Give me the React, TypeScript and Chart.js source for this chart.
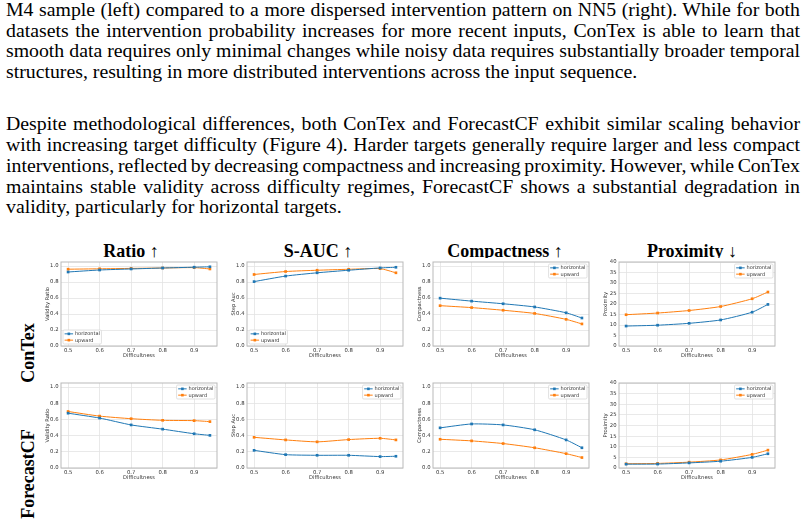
import React, { useEffect, useRef } from "react";
import { Chart, registerables } from "chart.js";

Chart.register(...registerables);

// ---- shared axis values ----
const difficulty = [0.5, 0.6, 0.7, 0.8, 0.9, 0.95];
const xTicks = [0.5, 0.6, 0.7, 0.8, 0.9];
const unitTicks = [0, 0.2, 0.4, 0.6, 0.8, 1.0];
const proximityTicks = [0, 5, 10, 15, 20, 25, 30, 35, 40];

// ---- ConTex ----
const contexRatioHorizontal = [0.925, 0.95, 0.963, 0.975, 0.985, 0.99];
const contexRatioUpward = [0.96, 0.965, 0.97, 0.975, 0.98, 0.963];
const contexAucHorizontal = [0.805, 0.874, 0.915, 0.947, 0.976, 0.984];
const contexAucUpward = [0.894, 0.931, 0.947, 0.959, 0.967, 0.915];
const contexCompactHorizontal = [0.598, 0.561, 0.528, 0.488, 0.415, 0.35];
const contexCompactUpward = [0.504, 0.48, 0.447, 0.407, 0.333, 0.276];
const contexProxHorizontal = [9.5, 9.9, 10.8, 12.4, 16.1, 19.8];
const contexProxUpward = [14.9, 15.7, 16.9, 18.8, 22.5, 25.7];

// ---- ForecastCF ----
const fcfRatioHorizontal = [0.677, 0.617, 0.532, 0.48, 0.423, 0.403];
const fcfRatioUpward = [0.698, 0.641, 0.609, 0.589, 0.585, 0.573];
const fcfAucHorizontal = [0.218, 0.165, 0.157, 0.157, 0.141, 0.145];
const fcfAucUpward = [0.379, 0.347, 0.323, 0.351, 0.367, 0.347];
const fcfCompactHorizontal = [0.496, 0.544, 0.532, 0.472, 0.347, 0.25];
const fcfCompactUpward = [0.355, 0.335, 0.302, 0.25, 0.177, 0.129];
const fcfProxHorizontal = [1.8, 1.85, 2.4, 3.2, 5.0, 6.7];
const fcfProxUpward = [2.0, 2.15, 2.75, 3.8, 6.4, 8.4];

const columnTitles = ["Ratio", "S-AUC", "Compactness", "Proximity"];
const columnArrows = ["↑", "↑", "↑", "↓"];
const rowLabels = ["ConTex", "ForecastCF"];
const seriesNames = ["horizontal", "upward"];

const paragraphOne = [
  "M4 sample (left) compared to a more dispersed intervention pattern on NN5 (right). While for both",
  "datasets the intervention probability increases for more recent inputs, ConTex is able to learn that",
  "smooth data requires only minimal changes while noisy data requires substantially broader temporal",
  "structures, resulting in more distributed interventions across the input sequence.",
];
const paragraphTwo = [
  "Despite methodological differences, both ConTex and ForecastCF exhibit similar scaling behavior",
  "with increasing target difficulty (Figure 4). Harder targets generally require larger and less compact",
  "interventions, reflected by decreasing compactness and increasing proximity. However, while ConTex",
  "maintains stable validity across difficulty regimes, ForecastCF shows a substantial degradation in",
  "validity, particularly for horizontal targets.",
];

// ---- styling ----
const BLUE = "#1f77b4";
const ORANGE = "#ff7f0e";
const GRID = "#e3e3e3";
const SPINE = "#b9b9b9";
const TEXT = "#333333";
const SANS = '"DejaVu Sans", sans-serif';
const TICK_SIZE = 5.3;
const LABEL_SIZE = 5.2;
const LEGEND_SIZE = 5;
const X_MIN = 0.4775;
const X_MAX = 0.9725;

const BOX_W = 157;
const Y_AXIS_W = 22;
const X_AXIS_H = 14;
const PAD_RIGHT = 3;
const CANVAS_W = Y_AXIS_W + BOX_W + PAD_RIGHT;
const COL_BOX_LEFT = [61, 247, 433, 619];
const COL_TITLE_CENTER = [131, 318, 505, 692];

type Panel = {
  horizontal: number[];
  upward: number[];
  yLabel: string;
  yMax: number;
  yTicks: number[];
  decimals: number;
  legendLoc: "lower left" | "upper right";
};

const panels: Panel[][] = [
  [
    { horizontal: contexRatioHorizontal, upward: contexRatioUpward, yLabel: "Validity Ratio", yMax: 1.05, yTicks: unitTicks, decimals: 1, legendLoc: "lower left" },
    { horizontal: contexAucHorizontal, upward: contexAucUpward, yLabel: "Step Auc", yMax: 1.05, yTicks: unitTicks, decimals: 1, legendLoc: "lower left" },
    { horizontal: contexCompactHorizontal, upward: contexCompactUpward, yLabel: "Compactness", yMax: 1.05, yTicks: unitTicks, decimals: 1, legendLoc: "upper right" },
    { horizontal: contexProxHorizontal, upward: contexProxUpward, yLabel: "Proximity", yMax: 40, yTicks: proximityTicks, decimals: 0, legendLoc: "upper right" },
  ],
  [
    { horizontal: fcfRatioHorizontal, upward: fcfRatioUpward, yLabel: "Validity Ratio", yMax: 1.05, yTicks: unitTicks, decimals: 1, legendLoc: "upper right" },
    { horizontal: fcfAucHorizontal, upward: fcfAucUpward, yLabel: "Step Auc", yMax: 1.05, yTicks: unitTicks, decimals: 1, legendLoc: "upper right" },
    { horizontal: fcfCompactHorizontal, upward: fcfCompactUpward, yLabel: "Compactness", yMax: 1.05, yTicks: unitTicks, decimals: 1, legendLoc: "upper right" },
    { horizontal: fcfProxHorizontal, upward: fcfProxUpward, yLabel: "Proximity", yMax: 40, yTicks: proximityTicks, decimals: 0, legendLoc: "upper right" },
  ],
];

// row geometry: canvas top, padding above the axes box, box height
const ROWS = [
  { top: 258, padTop: 2, boxH: 86 },
  { top: 379, padTop: 2.5, boxH: 86.5 },
];

// full rectangular frame around the axes box
const framePlugin = {
  id: "frame",
  beforeDatasetsDraw(chart: any) {
    const { ctx, chartArea: a } = chart;
    ctx.save();
    ctx.strokeStyle = SPINE;
    ctx.lineWidth = 1;
    ctx.strokeRect(a.left, a.top, a.right - a.left, a.bottom - a.top);
    ctx.restore();
  },
};

// legend drawn inside the plotting area
const insetLegendPlugin = {
  id: "insetLegend",
  afterDraw(chart: any, _args: any, opts: any) {
    const { ctx, chartArea: a } = chart;
    const sets = chart.data.datasets;
    ctx.save();
    ctx.font = `${LEGEND_SIZE}px ${SANS}`;
    const textW = Math.max(...sets.map((d: any) => ctx.measureText(d.label).width));
    const padX = 1.6;
    const handle = 8.5;
    const gap = 1.8;
    const rowH = 6.3;
    const padY = 0.7;
    const inset = 2;
    const w = padX + handle + gap + textW + padX;
    const h = padY * 2 + rowH * sets.length;
    const x = opts.loc === "upper right" ? a.right - inset - w : a.left + inset;
    const y = opts.loc === "upper right" ? a.top + inset : a.bottom - inset - h;
    ctx.beginPath();
    ctx.roundRect(x, y, w, h, 1.2);
    ctx.fillStyle = "rgba(255,255,255,0.85)";
    ctx.fill();
    ctx.strokeStyle = "#d4d4d4";
    ctx.lineWidth = 0.7;
    ctx.stroke();
    sets.forEach((d: any, i: number) => {
      const cy = y + padY + rowH * (i + 0.5);
      const hx = x + padX;
      ctx.strokeStyle = d.borderColor;
      ctx.lineWidth = 1;
      ctx.beginPath();
      ctx.moveTo(hx, cy);
      ctx.lineTo(hx + handle, cy);
      ctx.stroke();
      ctx.fillStyle = d.borderColor;
      ctx.fillRect(hx + handle / 2 - 1.3, cy - 1.3, 2.6, 2.6);
      ctx.fillStyle = TEXT;
      ctx.textBaseline = "middle";
      ctx.textAlign = "left";
      ctx.fillText(d.label, hx + handle + gap, cy + 0.2);
    });
    ctx.restore();
  },
};

function series(label: string, values: number[], color: string) {
  return {
    label,
    data: values.map((v, i) => ({ x: difficulty[i], y: v })),
    borderColor: color,
    backgroundColor: color,
    borderWidth: 1,
    tension: 0.2,
    pointStyle: "rect",
    pointRadius: 1.9,
    pointBorderWidth: 0,
    pointBackgroundColor: color,
    fill: false,
  };
}

function buildConfig(p: Panel, padTop: number): any {
  return {
    type: "line",
    data: {
      datasets: [series(seriesNames[0], p.horizontal, BLUE), series(seriesNames[1], p.upward, ORANGE)],
    },
    options: {
      animation: false,
      responsive: false,
      maintainAspectRatio: false,
      events: [],
      layout: { padding: { top: padTop, right: PAD_RIGHT, left: 0, bottom: 0 } },
      plugins: {
        legend: { display: false },
        tooltip: { enabled: false },
        insetLegend: { loc: p.legendLoc },
      },
      scales: {
        x: {
          type: "linear",
          min: X_MIN,
          max: X_MAX,
          afterBuildTicks: (s: any) => {
            s.ticks = xTicks.map((v) => ({ value: v }));
          },
          afterFit: (s: any) => {
            s.height = X_AXIS_H;
            s.paddingLeft = 0;
            s.paddingRight = 0;
          },
          ticks: {
            font: { size: TICK_SIZE, family: SANS },
            color: TEXT,
            padding: 1,
            maxRotation: 0,
            autoSkip: false,
            callback: (v: any) => Number(v).toFixed(1),
          },
          grid: { color: GRID, lineWidth: 0.8, drawTicks: false },
          border: { display: false },
          title: {
            display: true,
            text: "Difficultness",
            font: { size: LABEL_SIZE, family: SANS },
            color: TEXT,
            padding: { top: 0, bottom: 1.2 },
          },
        },
        y: {
          type: "linear",
          min: 0,
          max: p.yMax,
          afterBuildTicks: (s: any) => {
            s.ticks = p.yTicks.map((v) => ({ value: v }));
          },
          afterFit: (s: any) => {
            s.width = Y_AXIS_W;
            s.paddingTop = 0;
            s.paddingBottom = 0;
          },
          ticks: {
            font: { size: TICK_SIZE, family: SANS },
            color: TEXT,
            padding: 2.5,
            autoSkip: false,
            callback: (v: any) => Number(v).toFixed(p.decimals),
          },
          grid: { color: GRID, lineWidth: 0.8, drawTicks: false },
          border: { display: false },
          title: {
            display: true,
            text: p.yLabel,
            font: { size: LABEL_SIZE, family: SANS },
            color: TEXT,
            padding: { top: 5.3, bottom: 0 },
          },
        },
      },
    },
    plugins: [framePlugin, insetLegendPlugin],
  };
}

function PanelChart({ panel, left, top, padTop, boxH }: { panel: Panel; left: number; top: number; padTop: number; boxH: number }) {
  const ref = useRef<HTMLCanvasElement>(null);
  const height = padTop + boxH + X_AXIS_H;
  useEffect(() => {
    const chart = new Chart(ref.current as HTMLCanvasElement, buildConfig(panel, padTop));
    return () => chart.destroy();
  }, [panel, padTop]);
  return (
    <canvas
      ref={ref}
      width={CANVAS_W}
      height={Math.round(height)}
      style={{ position: "absolute", left, top, width: CANVAS_W, height: Math.round(height), background: "#fff" }}
    />
  );
}

const serif = '"Liberation Serif", "Times New Roman", serif';

// justified lines start from tightened word spacing and are stretched to the full measure
function TextBlock({ lines, top }: { lines: string[]; top: number }) {
  return (
    <div style={{ position: "absolute", left: 6, top, width: 794, fontFamily: serif, fontSize: 19.8, lineHeight: "20.75px", color: "#000" }}>
      {lines.map((t, i) => {
        const last = i === lines.length - 1;
        return (
          <div
            key={i}
            style={{
              textAlign: last ? "left" : "justify",
              textAlignLast: last ? "left" : "justify",
              wordSpacing: last ? 0 : -3,
              whiteSpace: "nowrap",
            }}
          >
            {t}
          </div>
        );
      })}
    </div>
  );
}

export default function App() {
  return (
    <div style={{ position: "relative", width: 806, height: 527, overflow: "hidden", background: "#fff" }}>
      <style>{`body{margin:0;background:#fff}`}</style>
      <TextBlock lines={paragraphOne} top={-1.1} />
      <TextBlock lines={paragraphTwo} top={113.4} />

      {columnTitles.map((t, i) => (
        <div
          key={t}
          style={{
            position: "absolute",
            left: COL_TITLE_CENTER[i] - 100,
            top: 241.6,
            width: 200,
            textAlign: "center",
            fontFamily: serif,
            fontWeight: "bold",
            fontSize: 18,
            lineHeight: "18px",
            whiteSpace: "nowrap",
          }}
        >
          {t} <span style={{ fontWeight: "normal" }}>{columnArrows[i]}</span>
        </div>
      ))}

      {panels.map((row, r) =>
        row.map((panel, c) => (
          <PanelChart
            key={`${r}-${c}`}
            panel={panel}
            left={COL_BOX_LEFT[c] - Y_AXIS_W}
            top={ROWS[r].top}
            padTop={ROWS[r].padTop}
            boxH={ROWS[r].boxH}
          />
        ))
      )}

      {rowLabels.map((t, i) => (
        <div
          key={t}
          style={{
            position: "absolute",
            left: 28.4 - 75,
            top: [353, 474][i] - 9,
            width: 150,
            height: 18,
            textAlign: "center",
            fontFamily: serif,
            fontWeight: "bold",
            fontSize: 18,
            lineHeight: "18px",
            transform: "rotate(-90deg)",
            whiteSpace: "nowrap",
          }}
        >
          {t}
        </div>
      ))}
    </div>
  );
}
